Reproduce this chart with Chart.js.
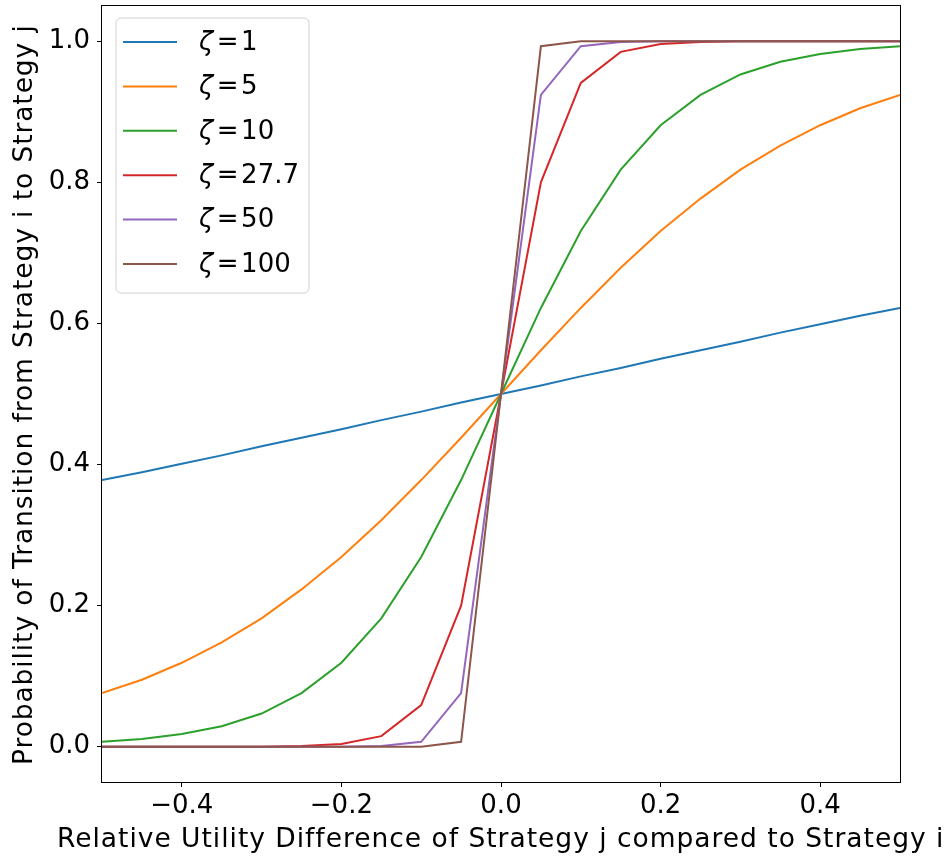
<!DOCTYPE html>
<html>
<head>
<meta charset="utf-8">
<script src="https://cdn.jsdelivr.net/npm/chart.js@4.4.1/dist/chart.umd.min.js"></script>
<style>
  html, body { margin: 0; padding: 0; background: #ffffff; }
  #wrap { width: 952px; height: 856px; position: relative; }
</style>
</head>
<body>
<div id="wrap"><canvas id="c" width="952" height="856"></canvas></div>
<script>
// ---- data ----
const xValues = [-0.5, -0.45, -0.4, -0.35, -0.3, -0.25, -0.2, -0.15, -0.1, -0.05, 0, 0.05, 0.1, 0.15, 0.2, 0.25, 0.3, 0.35, 0.4, 0.45, 0.5];
const zetaLabels = ['1', '5', '10', '27.7', '50', '100'];
const zeta1   = [0.378, 0.389, 0.401, 0.413, 0.426, 0.438, 0.450, 0.463, 0.475, 0.488, 0.500, 0.512, 0.525, 0.537, 0.550, 0.562, 0.574, 0.587, 0.599, 0.611, 0.622];
const zeta5   = [0.076, 0.095, 0.119, 0.148, 0.182, 0.223, 0.269, 0.321, 0.378, 0.438, 0.500, 0.562, 0.622, 0.679, 0.731, 0.777, 0.818, 0.852, 0.881, 0.905, 0.924];
const zeta10  = [0.007, 0.011, 0.018, 0.029, 0.047, 0.076, 0.119, 0.182, 0.269, 0.378, 0.500, 0.622, 0.731, 0.818, 0.881, 0.924, 0.953, 0.971, 0.982, 0.989, 0.993];
const zeta277 = [0.000, 0.000, 0.000, 0.000, 0.000, 0.001, 0.004, 0.015, 0.059, 0.200, 0.500, 0.800, 0.941, 0.985, 0.996, 0.999, 1.000, 1.000, 1.000, 1.000, 1.000];
const zeta50  = [0.000, 0.000, 0.000, 0.000, 0.000, 0.000, 0.000, 0.001, 0.007, 0.076, 0.500, 0.924, 0.993, 0.999, 1.000, 1.000, 1.000, 1.000, 1.000, 1.000, 1.000];
const zeta100 = [0.000, 0.000, 0.000, 0.000, 0.000, 0.000, 0.000, 0.000, 0.000, 0.007, 0.500, 0.993, 1.000, 1.000, 1.000, 1.000, 1.000, 1.000, 1.000, 1.000, 1.000];
const xTicks = [-0.4, -0.2, 0, 0.2, 0.4];
const yTicks = [0, 0.2, 0.4, 0.6, 0.8, 1.0];
const xTitle = 'Relative Utility Difference of Strategy j compared to Strategy i';
const yTitle = 'Probability of Transition from Strategy i to Strategy j';

const seriesValues = [zeta1, zeta5, zeta10, zeta277, zeta50, zeta100];
const colors = ['#1f77b4', '#ff7f0e', '#2ca02c', '#d62728', '#9467bd', '#8c564b'];
const FONT = '"DejaVu Sans", "Liberation Sans", sans-serif';

function fmt(v) {
  const s = Math.abs(v).toFixed(1);
  return (v < -1e-9 ? '\u2212' : '') + s;
}

const datasets = seriesValues.map((vals, i) => ({
  label: 'ζ = ' + zetaLabels[i],
  data: vals.map((y, k) => ({ x: xValues[k], y: y })),
  borderColor: colors[i],
  backgroundColor: colors[i],
  borderWidth: 2,
  pointRadius: 0,
  tension: 0,
  fill: false,
  order: seriesValues.length - i
}));

function spacedText(ctx, text, x, y, targetWidth) {
  ctx.letterSpacing = '0px';
  const w = ctx.measureText(text).width;
  const ls = Math.max(0, (targetWidth - w) / (text.length - 1));
  if ('letterSpacing' in ctx) {
    ctx.letterSpacing = ls.toFixed(2) + 'px';
    // center: fillText with letterSpacing adds trailing spacing; compensate
    ctx.textAlign = 'left';
    ctx.fillText(text, x - targetWidth / 2, y);
    ctx.letterSpacing = '0px';
  } else {
    ctx.textAlign = 'center';
    ctx.fillText(text, x, y);
  }
}

const framePlugin = {
  id: 'frameAndTitles',
  afterDatasetsDraw(chart) {
    const ctx = chart.ctx;
    const a = chart.chartArea;
    ctx.save();
    // frame (spines)
    ctx.strokeStyle = '#000000';
    ctx.lineWidth = 1;
    ctx.strokeRect(Math.round(a.left) - 0.5, Math.round(a.top) - 0.5,
                   Math.round(a.right - a.left) + 1, Math.round(a.bottom - a.top) + 1);

    // legend
    const lx = 116, ly = 18, lw = 193, lh = 275, r = 5;
    ctx.beginPath();
    ctx.moveTo(lx + r, ly);
    ctx.arcTo(lx + lw, ly, lx + lw, ly + lh, r);
    ctx.arcTo(lx + lw, ly + lh, lx, ly + lh, r);
    ctx.arcTo(lx, ly + lh, lx, ly, r);
    ctx.arcTo(lx, ly, lx + lw, ly, r);
    ctx.closePath();
    ctx.fillStyle = 'rgba(255,255,255,0.8)';
    ctx.fill();
    ctx.strokeStyle = 'rgba(204,204,204,0.9)';
    ctx.lineWidth = 1;
    ctx.stroke();

    chart.data.datasets.forEach((ds, i) => {
      const y = 42 + i * 44.4;
      ctx.strokeStyle = ds.borderColor;
      ctx.lineWidth = 2;
      ctx.beginPath();
      ctx.moveTo(123, y);
      ctx.lineTo(177, y);
      ctx.stroke();
      ctx.fillStyle = '#000000';
      ctx.textBaseline = 'middle';
      ctx.textAlign = 'left';
      ctx.font = 'italic 26px ' + FONT;
      ctx.fillText('ζ', 199, y + 1);
      const w = ctx.measureText('ζ').width;
      ctx.font = '26px ' + FONT;
      ctx.fillText('\u200A=\u200A' + zetaLabels[i], 199 + w + 1, y + 1);
    });

    // axis titles
    ctx.fillStyle = '#000000';
    ctx.font = '26.5px ' + FONT;
    ctx.textBaseline = 'alphabetic';
    spacedText(ctx, xTitle, 500, 847, 886);
    ctx.translate(32, 395);
    ctx.rotate(-Math.PI / 2);
    spacedText(ctx, yTitle, 0, 0, 740);
    ctx.restore();
  }
};

new Chart(document.getElementById('c'), {
  type: 'line',
  data: { datasets: datasets },
  options: {
    responsive: false,
    animation: false,
    devicePixelRatio: 1,
    layout: { padding: { top: 6, right: 52, left: 0, bottom: 0 } },
    plugins: { legend: { display: false }, tooltip: { enabled: false } },
    scales: {
      x: {
        type: 'linear',
        min: -0.5,
        max: 0.5,
        afterBuildTicks: (s) => { s.ticks = xTicks.map(v => ({ value: v })); },
        afterFit: (s) => { s.height = 74; s.paddingLeft = 0; s.paddingRight = 0; },
        grid: { drawOnChartArea: false, drawTicks: true, tickLength: 5, color: '#000000', lineWidth: 1 },
        border: { display: false },
        ticks: { color: '#000000', font: { family: FONT, size: 26 }, padding: 4, maxRotation: 0, autoSkip: false, callback: (v) => fmt(v) }
      },
      y: {
        type: 'linear',
        min: -0.05,
        max: 1.05,
        afterBuildTicks: (s) => { s.ticks = yTicks.map(v => ({ value: v })); },
        afterFit: (s) => { s.width = 102; s.paddingTop = 0; s.paddingBottom = 0; },
        grid: { drawOnChartArea: false, drawTicks: true, tickLength: 5, color: '#000000', lineWidth: 1 },
        border: { display: false },
        ticks: { color: '#000000', font: { family: FONT, size: 26 }, padding: 7, autoSkip: false, callback: (v) => fmt(v) }
      }
    }
  },
  plugins: [framePlugin]
});
</script>
</body>
</html>
